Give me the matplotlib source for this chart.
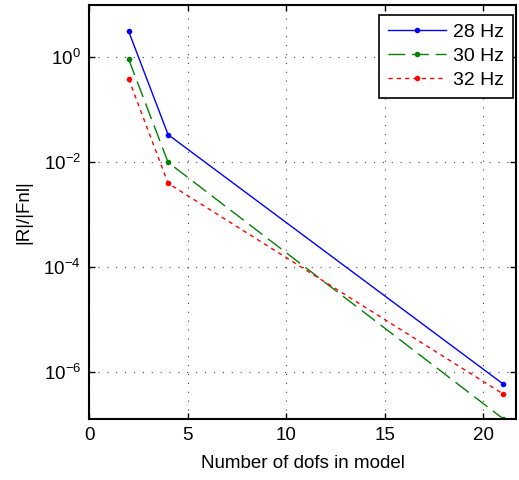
import matplotlib
matplotlib.use("Agg")
import matplotlib.pyplot as plt
import numpy as np

plt.rcParams['font.family'] = ['Liberation Sans', 'DejaVu Sans']

dofs = [2, 4, 21]
r28 = [3.13, 0.0335, 5.85e-7]
r30 = [0.916, 0.0099, 1.27e-7]
r32 = [0.387, 0.00394, 3.77e-7]
labels = ['28 Hz', '30 Hz', '32 Hz']

fig = plt.figure(figsize=(5.19, 4.8), dpi=100)
ax = fig.add_axes([0.172, 0.1277, 0.822, 0.862])

ax.semilogy(dofs, r28, color='#0000ff', ls='-', lw=1.0, marker='.', ms=6, label=labels[0])
ax.semilogy(dofs, r30, color='#008000', ls=(0, (12, 5)), lw=1.0, marker='.', ms=6, label=labels[1])
ax.semilogy(dofs, r32, color='#ff0000', ls=(0, (3, 3)), lw=1.0, marker='.', ms=6, label=labels[2])

ax.set_xlim(0, 21.65)
ax.set_ylim(1.27e-7, 10)
ax.set_xticks([0, 5, 10, 15, 20])
ax.set_yticks([1e0, 1e-2, 1e-4, 1e-6])
ax.yaxis.set_minor_locator(matplotlib.ticker.NullLocator())
ax.grid(True, ls=(0, (1, 7)), color='#444444', lw=0.8)
ax.tick_params(direction='in', top=True, right=True, labelsize=13.5, length=4, width=1, pad=6)
for s in ax.spines.values():
    s.set_linewidth(1.5)

ax.set_xlabel('Number of dofs in model', fontsize=13.5, labelpad=8)
ax.set_ylabel('|R|/|Fnl|', fontsize=13.5, labelpad=8)

leg = ax.legend(loc='upper right', bbox_to_anchor=(0.993, 0.976), fontsize=14,
                fancybox=False, framealpha=1, edgecolor='black',
                handlelength=3.0, borderaxespad=0.0,
                handletextpad=0.36, borderpad=0.45, labelspacing=0.33)
leg.get_frame().set_linewidth(1.2)

fig.savefig('out.png', dpi=100)
